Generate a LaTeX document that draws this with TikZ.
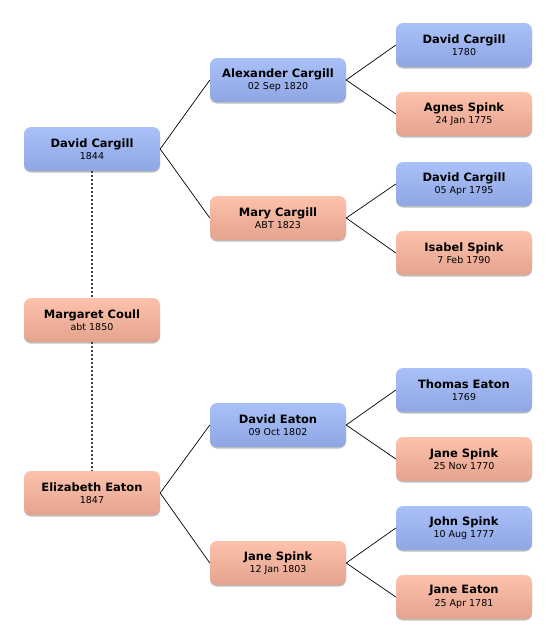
\documentclass[tikz,border=0pt]{standalone}
\usepackage{fontspec}
\setmainfont{DejaVu Sans}
\usetikzlibrary{shadows}

\definecolor{maletop}{HTML}{AAC0F8}
\definecolor{malebot}{HTML}{8EA6E3}
\definecolor{femtop}{HTML}{FDC2AC}
\definecolor{fembot}{HTML}{E4A38E}

\newcommand{\person}[2]{{\fontsize{11.5}{13}\selectfont\bfseries #1}\\[0.5pt]{\fontsize{9.5}{11}\selectfont #2}}

\begin{document}
\begin{tikzpicture}[
  x=1pt, y=-1pt,
  box/.style={rectangle,rounded corners=7pt,minimum width=136pt,minimum height=44pt,
    align=center,inner sep=2pt,
    drop shadow={shadow xshift=0pt,shadow yshift=-1.5pt,opacity=0.25,fill=black}},
  male/.style={box,top color=maletop,bottom color=malebot},
  female/.style={box,top color=femtop,bottom color=fembot},
  link/.style={black,line width=0.7pt},
  spouse/.style={black!75,line width=1.1pt,dash pattern=on 2pt off 2pt}
]
\useasboundingbox (0,0) rectangle (556,643);

% first column
\node[male] (david) at (92,149) {\person{David Cargill}{1844}};
\node[female] (margaret) at (92,320) {\person{Margaret Coull}{abt 1850}};
\node[female] (elizabeth) at (92,493) {\person{Elizabeth Eaton}{1847}};

% parents
\node[male] (alexander) at (278,80) {\person{Alexander Cargill}{02 Sep 1820}};
\node[female] (mary) at (278,218) {\person{Mary Cargill}{ABT 1823}};
\node[male] (deaton) at (278,425) {\person{David Eaton}{09 Oct 1802}};
\node[female] (jspink) at (278,563) {\person{Jane Spink}{12 Jan 1803}};

% grandparents
\node[male] (david1780) at (464,45) {\person{David Cargill}{1780}};
\node[female] (agnes) at (464,114) {\person{Agnes Spink}{24 Jan 1775}};
\node[male] (david1795) at (464,184) {\person{David Cargill}{05 Apr 1795}};
\node[female] (isabel) at (464,253) {\person{Isabel Spink}{7 Feb 1790}};
\node[male] (thomas) at (464,390) {\person{Thomas Eaton}{1769}};
\node[female] (jane1770) at (464,459) {\person{Jane Spink}{25 Nov 1770}};
\node[male] (john) at (464,528) {\person{John Spink}{10 Aug 1777}};
\node[female] (janeeaton) at (464,597) {\person{Jane Eaton}{25 Apr 1781}};

\draw[spouse] (david) -- (margaret);
\draw[spouse] (margaret) -- (elizabeth);

\draw[link] (david.east) -- (alexander.west);
\draw[link] (david.east) -- (mary.west);
\draw[link] (elizabeth.east) -- (deaton.west);
\draw[link] (elizabeth.east) -- (jspink.west);
\draw[link] (alexander.east) -- (david1780.west);
\draw[link] (alexander.east) -- (agnes.west);
\draw[link] (mary.east) -- (david1795.west);
\draw[link] (mary.east) -- (isabel.west);
\draw[link] (deaton.east) -- (thomas.west);
\draw[link] (deaton.east) -- (jane1770.west);
\draw[link] (jspink.east) -- (john.west);
\draw[link] (jspink.east) -- (janeeaton.west);
\end{tikzpicture}
\end{document}
